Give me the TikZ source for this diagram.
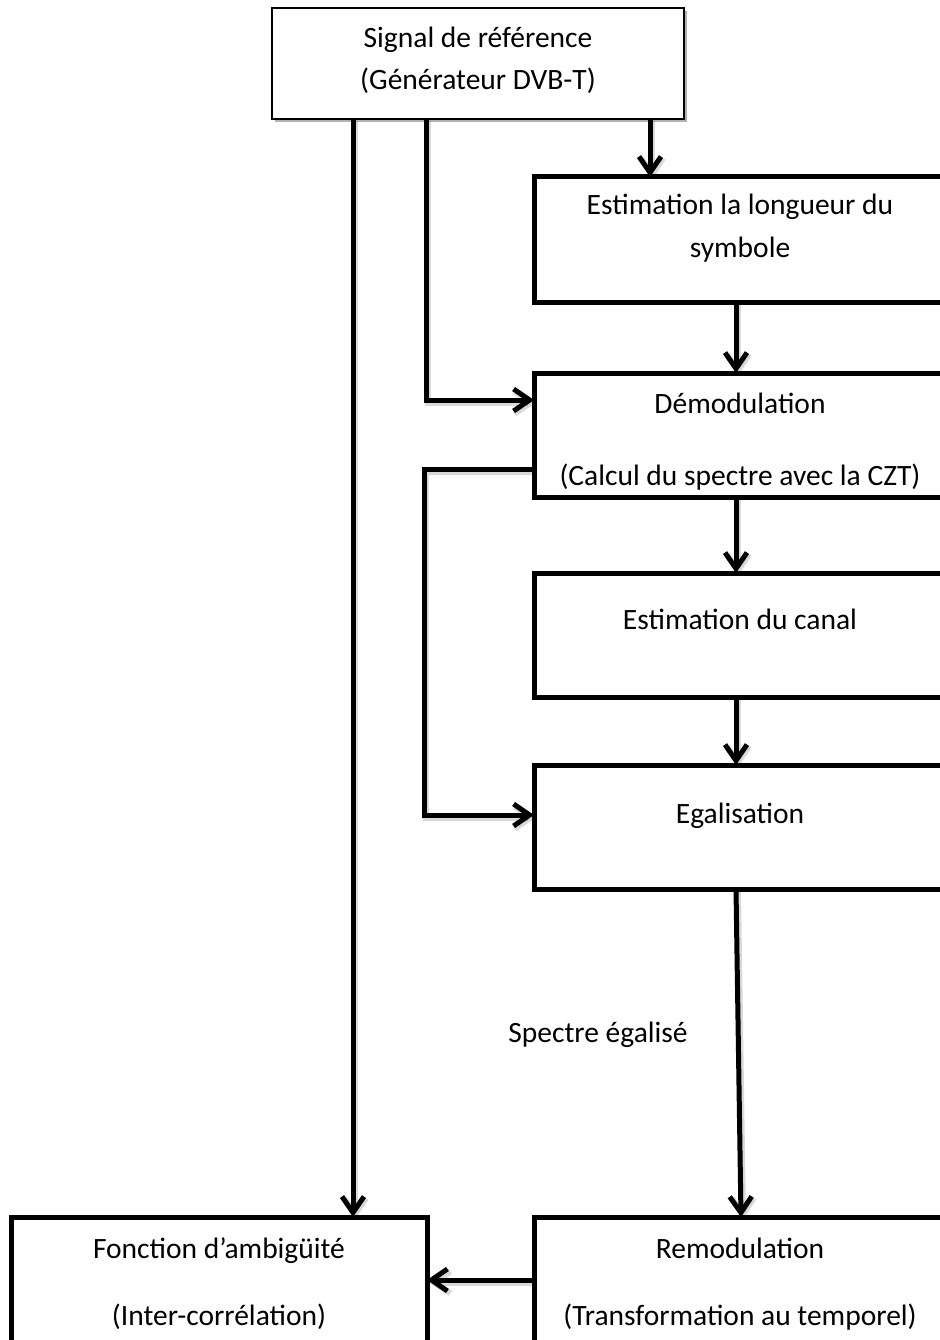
\documentclass[tikz,border=0pt]{standalone}
\usepackage{fontspec}
\setmainfont{Carlito}
\usetikzlibrary{arrows.meta,shadows,calc}
\begin{document}
\begin{tikzpicture}[x=1pt,y=-1pt,
  box/.style={draw, line width=5pt, fill=white, anchor=north west, inner sep=0pt, outer sep=0pt,
    drop shadow={shadow xshift=3pt, shadow yshift=-3pt, opacity=0.3, fill=black}},
  refbox/.style={box, line width=1.6pt},
  txt/.style={anchor=base, font=\fontsize{29.5}{35}\selectfont, inner sep=0pt},
  shd/.style={preaction={draw=black, opacity=0.15, line width=6pt, transform canvas={shift={(2pt,-2.5pt)}}}},
  arr/.style={line width=5pt, shd, -{Straight Barb[length=16pt,width=22pt]}}]
\useasboundingbox (0,0) rectangle (939,1340);
\fill[white] (0,0) rectangle (939,1340);
% boxes
\node[refbox, minimum width=412pt, minimum height=111pt] (ref) at (272,8) {};
\node[box, minimum width=412pt, minimum height=125pt] (est) at (534,177) {};
\node[box, minimum width=412pt, minimum height=124pt] (demod) at (534,373) {};
\node[box, minimum width=412pt, minimum height=124pt] (canal) at (534,573) {};
\node[box, minimum width=412pt, minimum height=124pt] (egal) at (534,765) {};
\node[box, minimum width=412pt, minimum height=150pt] (remod) at (534,1217) {};
\node[box, minimum width=416pt, minimum height=150pt] (fonc) at (11,1217) {};
% texts
\node[txt] (t1) at (478,48) {Signal de référence};
\node[txt] (t2) at (478,90) {(Générateur DVB-T)};
\node[txt] (t3) at (740,215) {Estimation la longueur du};
\node[txt] (t4) at (740,258) {symbole};
\node[txt] (t5) at (740,413) {Démodulation};
\node[txt] (t6) at (740,485) {(Calcul du spectre avec la CZT)};
\node[txt] (t7) at (740,629) {Estimation du canal};
\node[txt] (t8) at (740,823) {Egalisation};
\node[txt] (t9) at (598,1042) {Spectre égalisé};
\node[txt] (t10) at (740,1258) {Remodulation};
\node[txt] (t11) at (740,1325) {(Transformation au temporel)};
\node[txt] (t12) at (219,1258) {Fonction d’ambigüité};
\node[txt] (t13) at (219,1325) {(Inter-corrélation)};
% helper coordinates
\coordinate (c1) at (353,0);
\coordinate (c2) at (426,0);
\coordinate (c3) at (650,0);
\coordinate (c4) at (736,0);
\coordinate (c6) at (741,0);
\coordinate (r1) at (0,400);
\coordinate (r2) at (424,469);
\coordinate (r3) at (424,815);
\coordinate (r4) at (0,1280);
% connectors
\draw[arr] (ref.south -| c1) -- (fonc.north -| c1);
\draw[arr] (ref.south -| c2) |- (demod.west |- r1);
\draw[arr] (ref.south -| c3) -- (est.north -| c3);
\draw[arr] (est.south -| c4) -- (demod.north -| c4);
\draw[arr] (demod.south -| c4) -- (canal.north -| c4);
\draw[arr] (canal.south -| c4) -- (egal.north -| c4);
\draw[arr] (demod.west |- r2) -- (r2) -- (r3) -- (egal.west |- r3);
\draw[arr] (egal.south -| c4) -- (remod.north -| c6);
\draw[arr] (remod.west |- r4) -- (fonc.east |- r4);
\end{tikzpicture}
\end{document}
